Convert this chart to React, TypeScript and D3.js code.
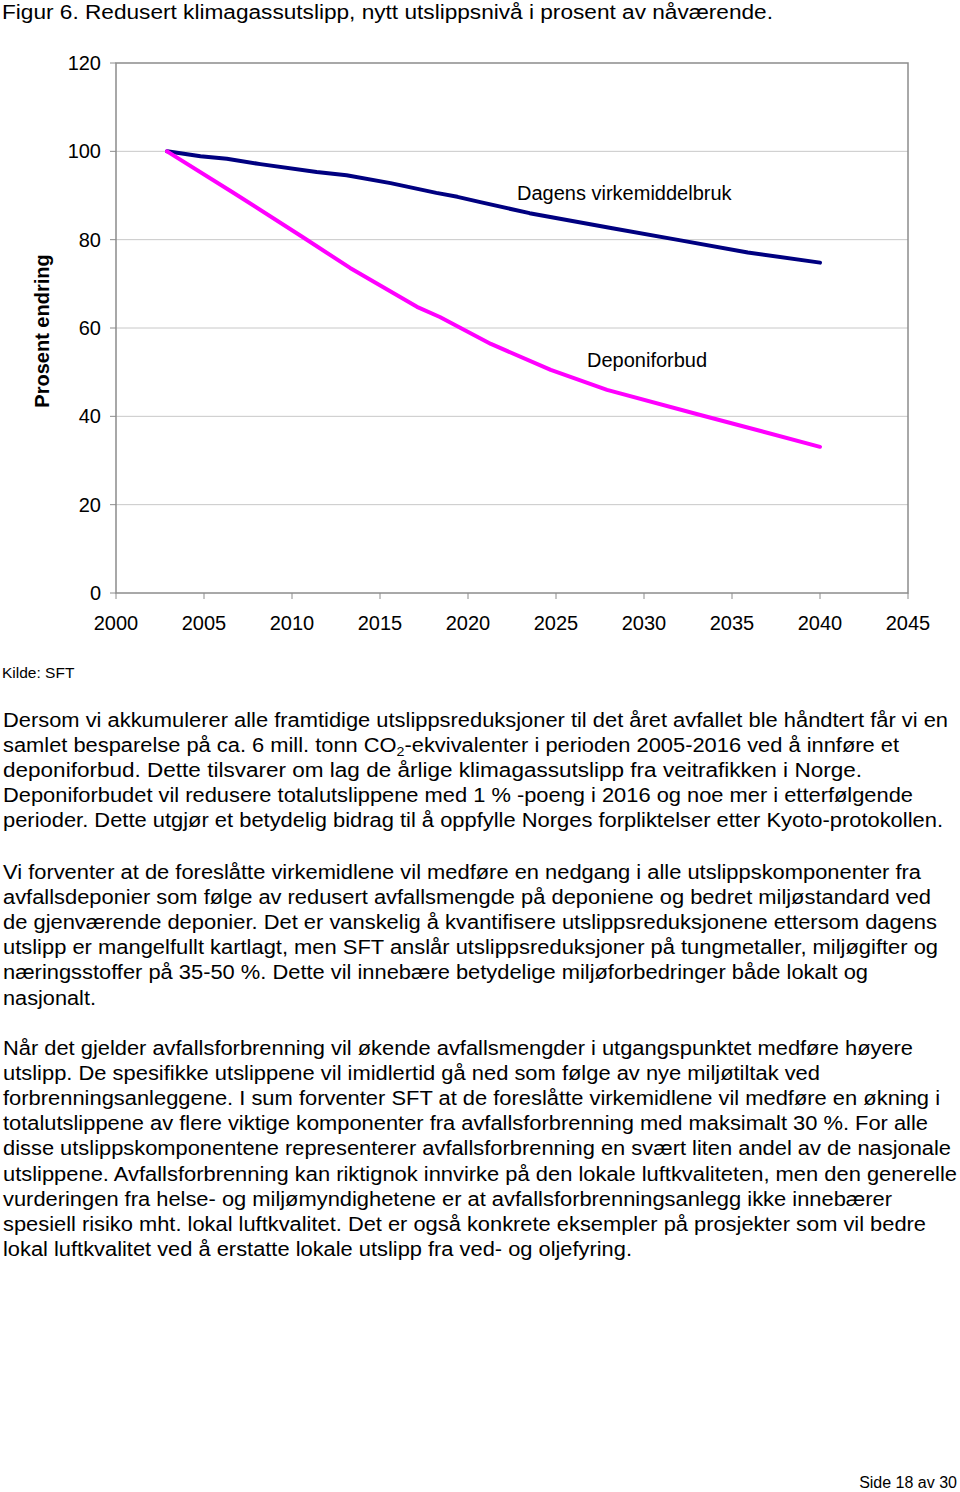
import React from "react";
import * as d3 from "d3";

const yTicks = [0, 20, 40, 60, 80, 100, 120];
const xTicks = [2000, 2005, 2010, 2015, 2020, 2025, 2030, 2035, 2040, 2045];

const dagensYears = [2002.9, 2004.8, 2006.3, 2008.2, 2011.4, 2013.1, 2015.6, 2018.2, 2019.4, 2020.7, 2023.5, 2028.2, 2032.0, 2035.9, 2040];
const dagensValues = [100, 98.9, 98.3, 97.1, 95.3, 94.6, 92.8, 90.6, 89.7, 88.5, 86.0, 82.6, 79.9, 77.1, 74.8];

const deponiYears = [2002.9, 2006.6, 2010.6, 2013.3, 2017.1, 2018.4, 2021.3, 2024.7, 2027.9, 2033.2, 2040];
const deponiValues = [100, 90.8, 80.6, 73.6, 64.8, 62.5, 56.4, 50.5, 46.0, 40.3, 33.1];

const title = "Figur 6. Redusert klimagassutslipp, nytt utslippsnivå i prosent av nåværende.";

type Line = { text: string | null; w: number };
const para1: Line[] = [
  { text: "Dersom vi akkumulerer alle framtidige utslippsreduksjoner til det året avfallet ble håndtert får vi en", w: 945 },
  { text: null, w: 896 },
  { text: "deponiforbud. Dette tilsvarer om lag de årlige klimagassutslipp fra veitrafikken i Norge.", w: 859 },
  { text: "Deponiforbudet vil redusere totalutslippene med 1 % -poeng i 2016 og noe mer i etterfølgende", w: 910 },
  { text: "perioder. Dette utgjør et betydelig bidrag til å oppfylle Norges forpliktelser etter Kyoto-protokollen.", w: 940 },
];
const para2: Line[] = [
  { text: "Vi forventer at de foreslåtte virkemidlene vil medføre en nedgang i alle utslippskomponenter fra", w: 918 },
  { text: "avfallsdeponier som følge av redusert avfallsmengde på deponiene og bedret miljøstandard ved", w: 928 },
  { text: "de gjenværende deponier. Det er vanskelig å kvantifisere utslippsreduksjonene ettersom dagens", w: 934 },
  { text: "utslipp er mangelfullt kartlagt, men SFT anslår utslippsreduksjoner på tungmetaller, miljøgifter og", w: 935 },
  { text: "næringsstoffer på 35-50 %. Dette vil innebære betydelige miljøforbedringer både lokalt og", w: 865 },
  { text: "nasjonalt.", w: 93 },
];
const para3: Line[] = [
  { text: "Når det gjelder avfallsforbrenning vil økende avfallsmengder i utgangspunktet medføre høyere", w: 910 },
  { text: "utslipp. De spesifikke utslippene vil imidlertid gå ned som følge av nye miljøtiltak ved", w: 817 },
  { text: "forbrenningsanleggene. I sum forventer SFT at de foreslåtte virkemidlene vil medføre en økning i", w: 937 },
  { text: "totalutslippene av flere viktige komponenter fra avfallsforbrenning med maksimalt 30 %. For alle", w: 925 },
  { text: "disse utslippskomponentene representerer avfallsforbrenning en svært liten andel av de nasjonale", w: 948 },
  { text: "utslippene. Avfallsforbrenning kan riktignok innvirke på den lokale luftkvaliteten, men den generelle", w: 954 },
  { text: "vurderingen fra helse- og miljømyndighetene er at avfallsforbrenningsanlegg ikke innebærer", w: 889 },
  { text: "spesiell risiko mht. lokal luftkvalitet. Det er også konkrete eksempler på prosjekter som vil bedre", w: 923 },
  { text: "lokal luftkvalitet ved å erstatte lokale utslipp fra ved- og oljefyring.", w: 629 },
];

const FONT = "'Liberation Sans', Arial, Helvetica, sans-serif";

export default function App() {
  const left = 116, right = 908, top = 63, bottom = 593;
  const x = d3.scaleLinear().domain([2000, 2045]).range([left, right]);
  const y = d3.scaleLinear().domain([0, 120]).range([bottom, top]);
  const line = d3.line<[number, number]>().x(d => x(d[0])).y(d => y(d[1]));
  const dagens = line(dagensYears.map((v, i) => [v, dagensValues[i]]) as [number, number][]) || "";
  const deponi = line(deponiYears.map((v, i) => [v, deponiValues[i]]) as [number, number][]) || "";

  const renderPara = (lines: Line[], startY: number) =>
    lines.map((l, i) => {
      const by = startY + i * 25.1;
      if (l.text === null) {
        return (
          <text key={i} x={3} y={by} fontSize={20} textLength={l.w} lengthAdjust="spacingAndGlyphs">
            samlet besparelse på ca. 6 mill. tonn CO<tspan fontSize={13} dy={4}>2</tspan><tspan dy={-4}>-ekvivalenter i perioden 2005-2016 ved å innføre et</tspan>
          </text>
        );
      }
      return (
        <text key={i} x={3} y={by} fontSize={20} textLength={l.w} lengthAdjust="spacingAndGlyphs">
          {l.text}
        </text>
      );
    });

  return (
    <svg width={960} height={1492} style={{ position: "absolute", left: 0, top: 0, background: "#fff" }} fontFamily={FONT}>
      <rect x={0} y={0} width={960} height={1492} fill="#fff" />
      <text x={2} y={19} fontSize={20} textLength={771} lengthAdjust="spacingAndGlyphs">{title}</text>

      {yTicks.filter(t => t > 0 && t < 120).map(t => (
        <line key={t} x1={left} x2={right} y1={y(t)} y2={y(t)} stroke="#c8c8c8" strokeWidth={1} />
      ))}
      <rect x={left} y={top} width={right - left} height={bottom - top} fill="none" stroke="#8c8c8c" strokeWidth={1.5} />
      {yTicks.map(t => (
        <g key={t}>
          <line x1={left - 6} x2={left} y1={y(t)} y2={y(t)} stroke="#8c8c8c" strokeWidth={1} />
          <text x={101} y={y(t) + 7} fontSize={20} textAnchor="end">{t}</text>
        </g>
      ))}
      {xTicks.map(t => (
        <g key={t}>
          <line x1={x(t)} x2={x(t)} y1={bottom} y2={bottom + 6} stroke="#8c8c8c" strokeWidth={1} />
          <text x={x(t)} y={630} fontSize={20} textAnchor="middle">{t}</text>
        </g>
      ))}
      <text transform="translate(49,331) rotate(-90)" fontSize={20} fontWeight="bold" textAnchor="middle">Prosent endring</text>

      <path d={dagens} fill="none" stroke="#000080" strokeWidth={4} strokeLinejoin="round" strokeLinecap="round" />
      <path d={deponi} fill="none" stroke="#ff00ff" strokeWidth={4} strokeLinejoin="round" strokeLinecap="round" />

      <text x={517} y={200} fontSize={20}>Dagens virkemiddelbruk</text>
      <text x={587} y={367} fontSize={20}>Deponiforbud</text>

      <text x={2} y={678} fontSize={15.5}>Kilde: SFT</text>

      {renderPara(para1, 727)}
      {renderPara(para2, 879)}
      {renderPara(para3, 1055)}

      <text x={957} y={1488} fontSize={16} textAnchor="end">Side 18 av 30</text>
    </svg>
  );
}
